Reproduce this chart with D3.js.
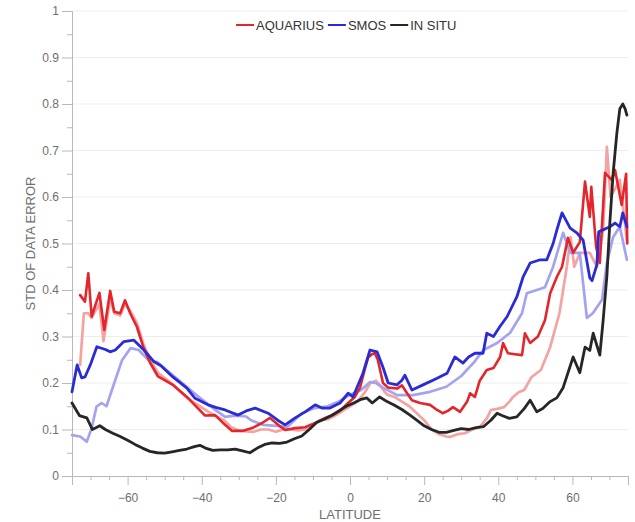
<!DOCTYPE html>
<html>
<head>
<meta charset="utf-8">
<script src="https://cdn.jsdelivr.net/npm/d3@7"></script>
<style>
  html, body { margin: 0; padding: 0; background: #fff; }
  svg { display: block; font-family: "Liberation Sans", Arial, sans-serif; }
</style>
</head>
<body>
<svg id="chart" width="635" height="522"></svg>
<script>
// Standard deviation of data error versus latitude, [latitude, std] pairs.
const aquarius = [
  [-72.8,0.389],[-71.5,0.375],[-70.6,0.436],[-69.7,0.343],[-67.6,0.394],[-66.3,0.314],
  [-64.7,0.398],[-63.6,0.353],[-62,0.35],[-60.7,0.378],[-59.3,0.35],[-57.5,0.321],
  [-55.8,0.278],[-53.9,0.243],[-51.8,0.214],[-47.8,0.196],[-44,0.17],[-41.8,0.152],
  [-39.1,0.13],[-36.4,0.131],[-33.7,0.11],[-31.8,0.097],[-29,0.097],[-26.4,0.103],
  [-23.7,0.114],[-21.6,0.125],[-19.4,0.11],[-17.5,0.099],[-14.8,0.103],[-12.1,0.105],
  [-9.4,0.114],[-6.7,0.125],[-4.6,0.131],[-2.7,0.14],[-0.8,0.155],[1.3,0.17],[2.7,0.19],
  [4,0.23],[4.9,0.255],[5.9,0.262],[6.7,0.264],[7.5,0.25],[8.9,0.2],[10.3,0.19],
  [12.7,0.188],[14,0.195],[15.4,0.178],[16.7,0.163],[18.9,0.157],[21.6,0.153],
  [23.5,0.142],[25,0.135],[26.4,0.14],[27.8,0.148],[29.7,0.138],[31.6,0.16],[32.4,0.178],
  [33.7,0.17],[35,0.205],[36.9,0.228],[38.7,0.232],[40.5,0.256],[41.3,0.286],[42.6,0.264],
  [44.5,0.262],[46.4,0.26],[47.2,0.307],[48.6,0.286],[50.7,0.3],[52.6,0.335],[54,0.393],
  [55.8,0.428],[57.2,0.45],[58.8,0.512],[60.2,0.48],[62,0.503],[63.4,0.633],[64.7,0.557],
  [65.1,0.622],[66.4,0.493],[67.4,0.458],[68.8,0.652],[70.6,0.637],[71.5,0.658],
  [73.3,0.583],[74.5,0.65],[74.8,0.5]
];
const aquariusAlt = [
  [-72.8,0.239],[-71.8,0.35],[-70.6,0.35],[-69.7,0.34],[-67.6,0.37],[-66.5,0.29],
  [-64.7,0.38],[-63.6,0.35],[-62,0.345],[-60.7,0.37],[-59.3,0.355],[-57.5,0.33],
  [-55.8,0.285],[-53.9,0.25],[-51.8,0.222],[-48,0.198],[-44,0.168],[-40.5,0.15],
  [-38.6,0.14],[-36,0.128],[-34,0.12],[-32,0.105],[-30,0.098],[-28,0.096],[-26,0.095],
  [-24,0.1],[-22,0.1],[-20,0.095],[-18,0.1],[-16,0.1],[-14,0.098],[-12,0.1],[-10,0.11],
  [-8,0.12],[-6,0.122],[-4,0.13],[-2,0.14],[0,0.15],[2,0.16],[4,0.18],[5.5,0.2],[7,0.205],
  [8.5,0.19],[10,0.175],[12,0.17],[14,0.16],[16,0.15],[18,0.135],[20,0.12],[22,0.1],
  [24,0.09],[26,0.085],[27,0.084],[29,0.09],[31,0.092],[33,0.1],[35,0.105],[37,0.125],
  [38,0.142],[40,0.145],[41.5,0.148],[43,0.16],[44,0.17],[45.5,0.18],[47,0.185],
  [49,0.213],[51.5,0.228],[54,0.277],[56.5,0.35],[58.5,0.45],[59.5,0.514],[60.5,0.45],
  [62,0.48],[64.7,0.48],[66.6,0.45],[68.3,0.529],[69.3,0.708],[70.3,0.6],[72.8,0.637],
  [74.7,0.507]
];
const smos = [
  [-75,0.181],[-73.6,0.239],[-72.4,0.211],[-71.5,0.213],[-70,0.24],[-68.3,0.278],
  [-66,0.272],[-64.7,0.267],[-63.3,0.271],[-61,0.289],[-58.3,0.292],[-55.6,0.271],
  [-52.9,0.246],[-51,0.237],[-47.8,0.213],[-44,0.189],[-41.8,0.167],[-38.3,0.153],
  [-36,0.147],[-33.7,0.142],[-30.2,0.131],[-28,0.14],[-25.6,0.146],[-22.1,0.135],
  [-19.5,0.12],[-17.5,0.11],[-14.8,0.125],[-12.1,0.138],[-9.4,0.153],[-7.6,0.146],
  [-5.4,0.146],[-2.7,0.157],[-0.5,0.178],[0.8,0.17],[3.5,0.221],[5.4,0.271],[7.3,0.267],
  [8.9,0.234],[10.3,0.2],[12.7,0.196],[14,0.206],[14.8,0.217],[16.7,0.185],[19.7,0.196],
  [23.5,0.21],[26.2,0.221],[28.3,0.256],[30.5,0.243],[32,0.256],[33.7,0.264],[35.9,0.264],
  [36.9,0.307],[38.7,0.3],[40.5,0.322],[42.4,0.343],[45,0.385],[46.7,0.428],[48.6,0.458],
  [51.3,0.465],[53.1,0.465],[54.8,0.5],[55.8,0.529],[57.2,0.566],[59.4,0.533],[61.2,0.523],
  [62.9,0.507],[64.7,0.426],[65.3,0.42],[66.6,0.454],[67.1,0.525],[70.1,0.536],
  [71.5,0.544],[72.8,0.536],[73.6,0.566],[74.7,0.536]
];
const smosAlt = [
  [-75,0.088],[-72.8,0.085],[-71,0.074],[-69.7,0.103],[-68.4,0.149],[-67,0.157],
  [-65.7,0.15],[-63.6,0.2],[-61.5,0.249],[-59.2,0.275],[-57,0.271],[-54.3,0.249],
  [-52,0.245],[-49.5,0.228],[-46,0.205],[-42,0.178],[-40,0.165],[-36,0.14],[-33.7,0.127],
  [-31,0.13],[-28,0.128],[-26.7,0.12],[-23.5,0.11],[-20,0.108],[-17,0.105],[-15,0.12],
  [-13,0.135],[-9.5,0.146],[-6,0.15],[-3,0.16],[0,0.175],[3,0.185],[5.4,0.202],[7,0.2],
  [8.9,0.19],[12.7,0.174],[17,0.174],[21.6,0.181],[26,0.192],[30,0.215],[33.5,0.245],
  [36,0.271],[39.7,0.286],[43.2,0.308],[46.4,0.35],[47.7,0.393],[50.4,0.4],[52.6,0.406],
  [54.8,0.45],[57.5,0.523],[59.4,0.48],[62,0.48],[63.9,0.34],[65.5,0.35],[68,0.379],
  [69.3,0.458],[71,0.514],[72.8,0.536],[74.7,0.465]
];
const inSitu = [
  [-75,0.157],[-73,0.13],[-71,0.125],[-69.5,0.1],[-67.5,0.108],[-66,0.1],[-64,0.092],
  [-62,0.085],[-60,0.077],[-58,0.068],[-56,0.06],[-54,0.053],[-52,0.05],[-50,0.049],
  [-48,0.052],[-46,0.055],[-44,0.058],[-42,0.063],[-40.5,0.066],[-39,0.06],[-37,0.055],
  [-35,0.056],[-33,0.056],[-31,0.058],[-29,0.054],[-27,0.05],[-25,0.06],[-23,0.068],
  [-21,0.071],[-19,0.07],[-17,0.073],[-15,0.08],[-13,0.086],[-11,0.1],[-9,0.115],
  [-7,0.122],[-5,0.13],[-3,0.14],[-1,0.15],[1,0.157],[3,0.165],[4.5,0.168],[6,0.157],
  [8,0.17],[10,0.16],[12,0.152],[14,0.143],[16,0.132],[18,0.12],[20,0.108],[22,0.1],
  [24,0.094],[26,0.094],[28,0.098],[30,0.102],[32,0.1],[34,0.104],[36,0.106],[38,0.12],
  [39.7,0.135],[41,0.13],[43,0.124],[45,0.127],[47,0.145],[48.6,0.163],[50.4,0.138],
  [52,0.145],[54,0.16],[55.8,0.168],[57.5,0.19],[60.2,0.256],[62,0.222],[63.4,0.277],
  [64.7,0.27],[65.6,0.307],[67.4,0.26],[68.3,0.335],[69.3,0.43],[70.1,0.544],[71,0.652],
  [72,0.738],[72.8,0.79],[73.6,0.8],[74.2,0.79],[74.7,0.776]
];

const yTicks = [0, 0.1, 0.2, 0.3, 0.4, 0.5, 0.6, 0.7, 0.8, 0.9, 1];
const yMinor = [0.05, 0.15, 0.25, 0.35, 0.45, 0.55, 0.65, 0.75, 0.85, 0.95];
const xTicks = [-60, -40, -20, 0, 20, 40, 60];
const xMinor = d3.range(-75, 76, 5).filter(v => v % 20 !== 0);

const legendItems = [
  { name: "AQUARIUS", color: "#e3262b" },
  { name: "SMOS", color: "#2b2bd6" },
  { name: "IN SITU", color: "#262626" }
];

const svg = d3.select("#chart");
const x = d3.scaleLinear().domain([-75, 75]).range([72, 628]);
const y = d3.scaleLinear().domain([0, 1]).range([476, 11]);

// horizontal grid
svg.append("g").selectAll("line").data(yTicks.slice(1)).join("line")
  .attr("x1", x(-75)).attr("x2", x(75))
  .attr("y1", d => y(d)).attr("y2", d => y(d))
  .attr("stroke", "#ededed").attr("stroke-width", 1);

const axisColor = "#b8b8b8";
const tickText = "#6e6e6e";

// y axis
svg.append("g").attr("transform", `translate(${x(-75)},0)`)
  .call(d3.axisLeft(y).tickValues(yTicks).tickSize(10).tickPadding(3)
    .tickFormat(d => d === 0 || d === 1 ? d3.format("d")(d) : d3.format(".1f")(d)));
svg.append("g").attr("transform", `translate(${x(-75)},0)`)
  .call(d3.axisLeft(y).tickValues(yMinor).tickSize(5).tickFormat(""))
  .call(g => g.select(".domain").remove());

// x axis
svg.append("g").attr("transform", `translate(0,${y(0)})`)
  .call(d3.axisBottom(x).tickValues(xTicks).tickSize(9).tickPadding(8));
svg.append("g").attr("transform", `translate(0,${y(0)})`)
  .call(d3.axisBottom(x).tickValues(xMinor).tickSize(4).tickFormat(""))
  .call(g => g.select(".domain").remove());

svg.selectAll(".domain").attr("stroke", axisColor);
svg.selectAll(".tick line").attr("stroke", axisColor);
svg.selectAll(".tick text").attr("fill", tickText)
  .style("font-size", "12px").style("font-family", "\"Liberation Sans\", Arial, sans-serif");

// axis titles
svg.append("text").attr("x", x(0)).attr("y", 519)
  .attr("text-anchor", "middle").attr("fill", tickText).style("font-size", "13px")
  .text("LATITUDE");
svg.append("text").attr("transform", `translate(35,${(y(0) + y(1)) / 2}) rotate(-90)`)
  .attr("text-anchor", "middle").attr("fill", tickText).style("font-size", "13px")
  .text("STD OF DATA ERROR");

// series lines: lighter companions underneath, main series on top
const line = d3.line().x(d => x(d[0])).y(d => y(d[1]));
const series = [
  { data: aquariusAlt, color: "#f4a3a3", w: 2.7 },
  { data: smosAlt, color: "#a3a3f2", w: 2.7 },
  { data: aquarius, color: "#e3262b", w: 2.6 },
  { data: smos, color: "#2b2bd6", w: 2.8 },
  { data: inSitu, color: "#262626", w: 2.8 }
];
svg.append("g").selectAll("path").data(series).join("path")
  .attr("d", d => line(d.data))
  .attr("fill", "none")
  .attr("stroke", d => d.color)
  .attr("stroke-width", d => d.w)
  .attr("stroke-linejoin", "round")
  .attr("stroke-linecap", "round");

// legend
const legend = svg.append("g").attr("transform", "translate(236,25)");
let lx = 0;
legendItems.forEach(item => {
  legend.append("line").attr("x1", lx).attr("x2", lx + 18).attr("y1", 0).attr("y2", 0)
    .attr("stroke", item.color).attr("stroke-width", 2);
  const t = legend.append("text").attr("x", lx + 20).attr("y", 4.5)
    .attr("fill", "#333").style("font-size", "13px").text(item.name);
  lx += 20 + t.node().getComputedTextLength() + 4;
});
</script>
</body>
</html>
